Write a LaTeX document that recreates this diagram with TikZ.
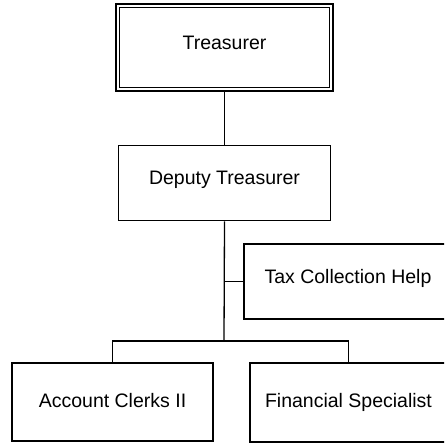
\documentclass[tikz,border=0pt]{standalone}
\usepackage{fontspec}
\usepackage{tikz}
\usetikzlibrary{positioning}
\newfontfamily\orgfont{Liberation Sans}
\tikzset{
  post/.style={rectangle, draw=black, line width=1.6pt,
               minimum width=205pt, minimum height=76pt,
               inner sep=0pt, text centered,
               font=\orgfont\fontsize{19.5}{22}\selectfont},
  link/.style={draw=black, line width=1.3pt}
}
\begin{document}
\begin{tikzpicture}[x=1pt, y=1pt]
  \useasboundingbox (0,0) rectangle (444,446);
  \clip (0,0) rectangle (444,446);

  % Treasurer (double border)
  \node[post, minimum width=217pt, minimum height=87pt, line width=1.8pt]
    (tr) at (224.5,398.5) {\raisebox{10pt}{Treasurer}};
  \draw[draw=black, line width=1.1pt]
    ([shift={(4pt,-4pt)}]tr.north west) rectangle ([shift={(-4pt,4pt)}]tr.south east);

  % Deputy
  \node[post, minimum width=212pt, minimum height=75pt, below=53pt of tr]
    (dep) {\raisebox{10pt}{Deputy Treasurer}};

  % Tax collection help
  \node[post, minimum width=208pt, minimum height=75pt]
    (tax) at (348,164.5) {\raisebox{10pt}{Tax Collection Help}};

  % bottom row
  \node[post, minimum width=201pt, minimum height=78pt]
    (acc) at (112.5,44) {\raisebox{4pt}{Account Clerks II}};
  \node[post, minimum width=197pt, minimum height=79pt]
    (fin) at (348.5,43.5) {\raisebox{4pt}{Financial Specialist}};

  % junctions
  \coordinate (bus) at (224,105);
  \coordinate (taxj) at (dep.south |- tax.west);

  % lines
  \draw[link] (tr) -- (dep);
  \draw[link] (dep.south) -- (bus);
  \draw[link] (taxj) -- (tax.west);
  \draw[link] (acc.north) |- (bus) -| (fin.north);

\end{tikzpicture}
\end{document}
